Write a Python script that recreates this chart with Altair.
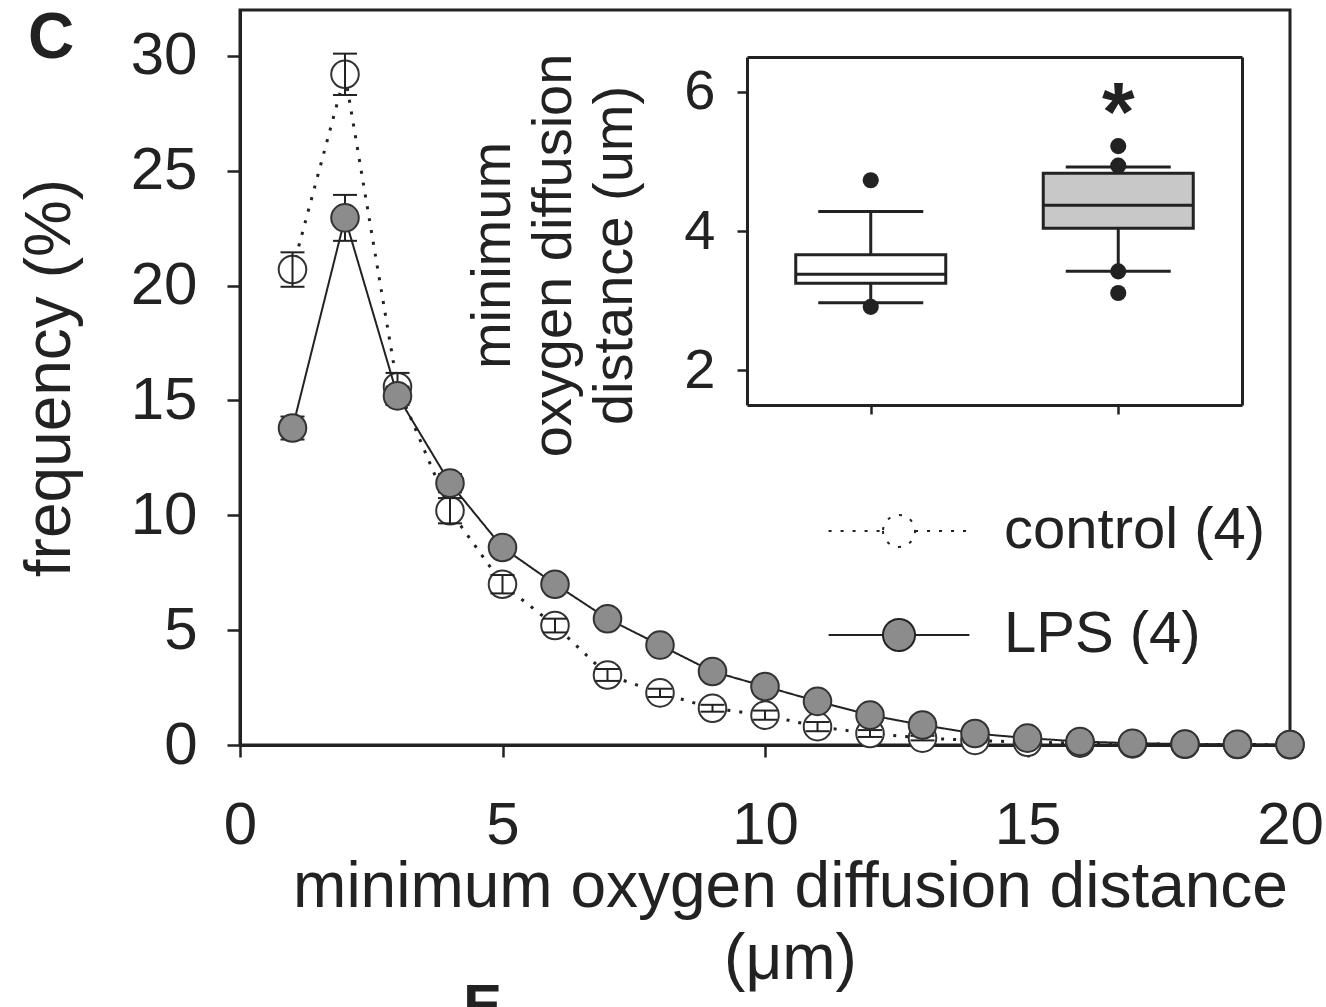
import altair as alt
import pandas as pd

# ---------------- main panel data ----------------
distance = list(range(1, 21))
series = ["control (4)", "LPS (4)"]
ctrl_freq = [20.7, 29.2, 15.6, 10.2, 7.0, 5.2, 3.05, 2.27, 1.6, 1.3, 0.8, 0.5, 0.3, 0.2, 0.12, 0.08, 0.05, 0.03, 0.02, 0.01]
ctrl_sem = [0.75, 0.9, 0.6, 0.55, 0.4, 0.3, 0.26, 0.18, 0.15, 0.2, 0.2, 0.15, 0.1, 0.08, 0.05, 0.04, 0.03, 0.02, 0.02, 0.01]
lps_freq = [13.8, 22.95, 15.2, 11.4, 8.6, 7.0, 5.5, 4.35, 3.2, 2.55, 1.9, 1.3, 0.87, 0.5, 0.3, 0.15, 0.08, 0.04, 0.03, 0.02]
lps_sem = [0.5, 1.0, 0.4, 0.4, 0.3, 0.3, 0.25, 0.2, 0.2, 0.2, 0.15, 0.15, 0.1, 0.1, 0.05, 0.05, 0.03, 0.02, 0.02, 0.01]
x_ticks = [0, 5, 10, 15, 20]
y_ticks = [0, 5, 10, 15, 20, 25, 30]
panel_label = ["E"]
panel_label_x = [4.25]
panel_label_y = [-12.2]

# ---------------- inset (box plot) data ----------------
inset_groups = ["control", "LPS"]
box_q1 = [3.25, 4.04]
box_median = [3.38, 4.37]
box_q3 = [3.66, 4.83]
whisker_low = [2.97, 3.42]
whisker_high = [4.28, 4.92]
box_fill = ["#ffffff", "#c8c8c8"]
outlier_group = ["control", "control", "LPS", "LPS", "LPS", "LPS"]
outlier_value = [4.73, 2.91, 5.22, 4.94, 3.42, 3.11]
sig_group = ["LPS"]
sig_value = [5.86]
sig_label = ["*"]
inset_y_ticks = [2, 4, 6]

FONT = "Liberation Sans"
INK = "#222222"


def series_df(name, freq, sem):
    return pd.DataFrame({
        "distance": distance,
        "freq": freq,
        "lo": [f - s for f, s in zip(freq, sem)],
        "hi": [f + s for f, s in zip(freq, sem)],
        "group": name,
    })


ctrl_df = series_df(series[0], ctrl_freq, ctrl_sem)
lps_df = series_df(series[1], lps_freq, lps_sem)
label_df = pd.DataFrame({"distance": panel_label_x, "freq": panel_label_y, "label": panel_label})

x_scale = alt.Scale(domain=[0, 20], nice=False, zero=False)
y_scale = alt.Scale(domain=[0, 32], nice=False, zero=False)
x_axis = alt.Axis(values=x_ticks, title=["minimum oxygen diffusion distance", "(μm)"],
                  orient="bottom", labelFontSize=60, labelPadding=39, tickSize=12,
                  labelFlush=False, titleFontSize=64, titleFontWeight="normal",
                  titlePadding=0, titleLineHeight=72, titleX=550, grid=False)
y_axis = alt.Axis(values=y_ticks, title="frequency (%)", orient="left", labelFontSize=60,
                  labelPadding=30, tickSize=13, titleFontSize=64, titleFontWeight="normal",
                  titlePadding=48, grid=False)

mx = alt.X("distance:Q", scale=x_scale, axis=x_axis)
my = alt.Y("freq:Q", scale=y_scale, axis=y_axis)
my_lo = alt.Y("lo:Q", scale=y_scale, axis=y_axis)
my_hi = alt.Y("hi:Q", scale=y_scale, axis=y_axis)

legend_path = "M-2.2,0L-0.5,0M0.5,0L2.2,0M-0.5,0A0.5,0.5,0,1,0,0.5,0A0.5,0.5,0,1,0,-0.5,0Z"
legend = alt.Legend(title=None, orient="none", legendX=626, legendY=488, symbolType=legend_path,
                    symbolSize=4096, symbolStrokeColor=INK, symbolStrokeWidth=2,
                    labelFontSize=58, labelFont=FONT, labelColor=INK, labelOffset=72,
                    labelLimit=0, rowPadding=42, padding=0)
fill_enc = alt.Fill("group:N", scale=alt.Scale(domain=series, range=["#ffffff", "#8c8c8c"]), legend=legend)
dash_enc = alt.StrokeDash("group:N", scale=alt.Scale(domain=series, range=[[3, 9], [1, 0]]), legend=legend)


def line_layer(df, width):
    return alt.Chart(df).mark_line(color=INK, strokeWidth=width).encode(x=mx, y=my, strokeDash=dash_enc)


def err_layers(df):
    rule = alt.Chart(df).mark_rule(color=INK, strokeWidth=2).encode(x=mx, y=my_lo, y2="hi:Q")
    cap_lo = alt.Chart(df).mark_tick(orient="horizontal", size=24, thickness=2, color=INK,
                                     opacity=1).encode(x=mx, y=my_lo)
    cap_hi = alt.Chart(df).mark_tick(orient="horizontal", size=24, thickness=2, color=INK,
                                     opacity=1).encode(x=mx, y=my_hi)
    return [rule, cap_lo, cap_hi]


def point_layer(df):
    return alt.Chart(df).mark_point(shape="circle", filled=True, size=760, stroke="#333333",
                                    strokeWidth=2, opacity=1).encode(x=mx, y=my, fill=fill_enc)


label_layer = alt.Chart(label_df).mark_text(fontSize=58, fontWeight="bold", align="left",
                                            baseline="alphabetic", font=FONT, color=INK).encode(
    x=mx, y=my, text="label:N")

main = alt.layer(
    line_layer(ctrl_df, 3),
    point_layer(ctrl_df),
    *err_layers(ctrl_df),
    line_layer(lps_df, 2),
    *err_layers(lps_df),
    point_layer(lps_df),
    label_layer,
)

# ---------------- inset ----------------
box_df = pd.DataFrame({"group": inset_groups, "q1": box_q1, "median": box_median, "q3": box_q3,
                       "lo": whisker_low, "hi": whisker_high, "box_fill": box_fill})
out_df = pd.DataFrame({"group": outlier_group, "value": outlier_value})
sig_df = pd.DataFrame({"group": sig_group, "value": sig_value, "label": sig_label})

ix_scale = alt.Scale(type="point", domain=inset_groups, range=[507, 1002], padding=0.5)
iy_scale = alt.Scale(domain=[1.5, 6.5], range=[395, 47], nice=False, zero=False)
ix_axis = alt.Axis(orient="bottom", offset=-340, title=None, labels=False, ticks=True, tickSize=9,
                   tickWidth=2.5, domain=True, domainWidth=3, grid=False)
iy_axis = alt.Axis(orient="left", offset=-507, values=inset_y_ticks,
                   title=["minimum", "oxygen diffusion", "distance (um)"],
                   titleFontSize=56, titleLineHeight=61, titleFontWeight="normal", titlePadding=40,
                   titleY=245, labelFontSize=56, labelPadding=22, tickSize=10, domainWidth=3, grid=False)

ix = alt.X("group:N", scale=ix_scale, axis=ix_axis)


def iy(field):
    return alt.Y(field, scale=iy_scale, axis=iy_axis)


boxes = alt.Chart(box_df).mark_bar(size=150, stroke=INK, strokeWidth=3, opacity=1).encode(
    x=ix, y=iy("q1:Q"), y2="q3:Q", fill=alt.Fill("box_fill:N", scale=None))
whisk_lo = alt.Chart(box_df).mark_rule(color=INK, strokeWidth=3).encode(x=ix, y=iy("lo:Q"), y2="q1:Q")
whisk_hi = alt.Chart(box_df).mark_rule(color=INK, strokeWidth=3).encode(x=ix, y=iy("q3:Q"), y2="hi:Q")
cap_lo = alt.Chart(box_df).mark_tick(orient="horizontal", size=105, thickness=3, color=INK,
                                     opacity=1).encode(x=ix, y=iy("lo:Q"))
cap_hi = alt.Chart(box_df).mark_tick(orient="horizontal", size=105, thickness=3, color=INK,
                                     opacity=1).encode(x=ix, y=iy("hi:Q"))
medians = alt.Chart(box_df).mark_tick(orient="horizontal", size=150, thickness=3, color=INK,
                                      opacity=1).encode(x=ix, y=iy("median:Q"))
outliers = alt.Chart(out_df).mark_circle(size=260, color=INK, opacity=1).encode(x=ix, y=iy("value:Q"))

inset = alt.layer(boxes, whisk_lo, whisk_hi, cap_lo, cap_hi, medians, outliers)

# frame (top/right) + significance star
fx_axis = alt.Axis(orient="top", offset=-47, title=None, labels=False, ticks=False, domain=True,
                   domainWidth=3, grid=False)
fy_axis = alt.Axis(orient="right", offset=-48, title=None, labels=False, ticks=False, domain=True,
                   domainWidth=3, grid=False)
star = alt.Chart(sig_df).mark_text(fontSize=84, fontWeight="bold", font=FONT, color=INK,
                                   baseline="middle", dy=14).encode(
    x=alt.X("group:N", scale=ix_scale, axis=fx_axis),
    y=alt.Y("value:Q", scale=iy_scale, axis=fy_axis),
    text="label:N")

chart = alt.layer(main, inset, star).resolve_scale(x="independent", y="independent").properties(
    width=1050, height=735,
    padding={"left": 240, "top": 10, "right": 36, "bottom": 262},
    autosize=alt.AutoSizeParams(type="none"),
    background="white",
    title=alt.TitleParams("C", anchor="start", frame="group", fontSize=64, fontWeight="bold",
                          font=FONT, color=INK, baseline="alphabetic", offset=0, dx=-212, dy=112),
).configure_view(stroke=INK, strokeWidth=3).configure_axis(
    labelFont=FONT, titleFont=FONT, labelColor=INK, titleColor=INK, domainColor=INK,
    tickColor=INK, domainWidth=3, tickWidth=2.5, grid=False
)

chart.save("out.html", embed_options={"renderer": "svg", "actions": False})
